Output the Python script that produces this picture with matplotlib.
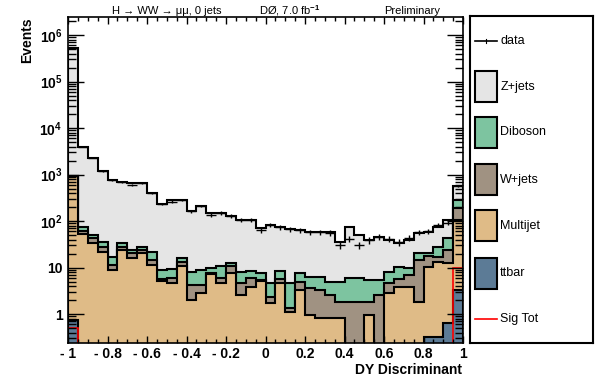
import numpy as np
import matplotlib
matplotlib.use("Agg")
import matplotlib.pyplot as plt
from matplotlib.patches import Rectangle
from matplotlib.ticker import MultipleLocator, LogLocator, NullFormatter, FixedLocator

plt.rcParams['font.family'] = ['Liberation Sans', 'DejaVu Sans']
plt.rcParams['mathtext.fontset'] = 'custom'
plt.rcParams['mathtext.rm'] = 'Liberation Sans:bold'
plt.rcParams['mathtext.bf'] = 'Liberation Sans:bold'

# DY discriminant, 40 bins from -1 to 1
edges = np.linspace(-1, 1, 41)

# yields per bin, stacked bottom -> top
ttbar = [0.75, 0, 0, 0, 0, 0, 0, 0, 0, 0,
         0, 0, 0, 0, 0, 0, 0, 0, 0, 0,
         0, 0, 0, 0, 0, 0, 0, 0, 0, 0,
         0, 0, 0, 0, 0, 0, 0.32, 0.32, 0.65, 3.3]
multijet = [929, 52.5, 33.6, 21.5, 8.8, 23.8, 16, 20.5, 11.3, 5.1,
            4.6, 10.8, 2.0, 2.8, 7.25, 4.6, 7.6, 2.56, 3.8, 5.2,
            1.72, 4.6, 1.1, 3.3, 0.95, 0.82, 0.82, 0.82, 0, 0,
            0.95, 0, 2.8, 3.8, 3.8, 1.8, 10.0, 12.8, 11.85, 101.7]
wjets = [5, 8.5, 9.4, 6.1, 2.5, 3.8, 4.5, 3.3, 3.2, 0.56,
         1.35, 2.3, 2.2, 1.4, 0.35, 1.35, 3.2, 2.0, 2.15, 0.2,
         0.58, 1.06, 0.25, 1.6, 2.65, 2.5, 1.74, 1.0, 1.8, 1.8,
         0.85, 2.56, 1.8, 1.86, 3.1, 12.7, 7.4, 3.7, 11.3, 85]
diboson = [10, 13, 7, 7.8, 5.5, 6, 3.3, 3.8, 7, 3.1,
           3.35, 2.9, 3.8, 4.6, 2.15, 4.85, 1.7, 3.4, 2.45, 2.2,
           2.3, 2.74, 3.25, 2.7, 2.65, 2.95, 2.34, 3.1, 4.15, 4.15,
           3.6, 2.84, 3.4, 4.64, 2.85, 6, 2.8, 10.8, 19.2, 93]
zjets = [524000, 3830, 2210, 1155, 745, 656, 633, 629, 378, 223,
         274, 267, 156, 201, 139, 138, 115, 97, 97, 63,
         77, 66, 62, 56, 52, 52, 53, 30.5, 68, 44,
         34, 40, 31, 23, 29, 34.5, 37.5, 46, 62, 283]
data = [525000, 3900, 2260, 1190, 762, 690, 600, 657, 400, 232,
        262, 283, 164, 210, 135, 149, 128, 105, 105, 64,
        82, 74, 67, 64, 58, 58, 56, 31, 41, 30.5,
        39, 45, 41, 35, 43, 58, 61, 82, 90, 560]
sig_tot = [0.5] + [0.01] * 38 + [10]

labels = ['Z+jets', 'Diboson', 'W+jets', 'Multijet', 'ttbar']
colors = ['#e5e5e5', '#7dc4a0', '#a09282', '#dfbb87', '#5c7b96']
xtick_vals = [-1, -0.8, -0.6, -0.4, -0.2, 0, 0.2, 0.4, 0.6, 0.8, 1]
xtick_labels = ['- 1', '- 0.8', '- 0.6', '- 0.4', '- 0.2', '0', '0.2', '0.4', '0.6', '0.8', '1']
ytick_vals = [1, 10, 1e2, 1e3, 1e4, 1e5, 1e6]
ytick_labels = ['1', '10', r'$10^{2}$', r'$10^{3}$', r'$10^{4}$', r'$10^{5}$', r'$10^{6}$']

W, H = 601, 379
fig = plt.figure(figsize=(W / 100, H / 100), dpi=100)
ax = fig.add_axes([68 / W, 1 - 343 / H, 395 / W, 326 / H])

stack = np.cumsum([ttbar, multijet, wjets, diboson, zjets], axis=0)
col_stack = colors[::-1]  # ttbar first
for i in range(len(stack) - 1, -1, -1):
    ax.stairs(stack[i], edges, fill=True, baseline=1e-3,
              facecolor=col_stack[i], edgecolor='black', linewidth=1.5)

centers = 0.5 * (edges[1:] + edges[:-1])
data = np.array(data)
ax.errorbar(centers, data, xerr=0.025, yerr=np.sqrt(data), fmt='none',
            ecolor='black', elinewidth=1, capsize=0)
ax.stairs(sig_tot, edges, baseline=None, color='red', linewidth=1.2)

ax.set_yscale('log')
ax.set_xlim(-1, 1)
ax.set_ylim(0.238, 2.44e6)

ax.xaxis.set_major_locator(FixedLocator(xtick_vals))
ax.set_xticklabels(xtick_labels)
ax.xaxis.set_minor_locator(MultipleLocator(0.05))
ax.yaxis.set_major_locator(FixedLocator(ytick_vals))
ax.set_yticklabels(ytick_labels)
ax.yaxis.set_minor_locator(LogLocator(base=10, subs=np.arange(2, 10), numticks=20))
ax.yaxis.set_minor_formatter(NullFormatter())

ax.tick_params(which='both', direction='in', top=True, right=True, width=1)
ax.tick_params(axis='x', which='major', length=5, pad=3)
ax.tick_params(axis='x', which='minor', length=3)
ax.tick_params(axis='y', which='major', length=11.5, pad=4)
ax.tick_params(axis='y', which='minor', length=5.8)
for lab in ax.get_xticklabels() + ax.get_yticklabels():
    lab.set_fontsize(10)
    lab.set_fontweight('bold')
for sp in ax.spines.values():
    sp.set_linewidth(1.2)

fig.text(27 / W, 1 - 17 / H, 'Events', rotation=90, ha='center', va='top',
         fontsize=10, fontweight='bold')
fig.text(462 / W, 1 - 370 / H, 'DY Discriminant', ha='right', va='center',
         fontsize=10, fontweight='bold')

fig.text(167 / W, 1 - 11 / H, 'H → WW → μμ, 0 jets', ha='center', va='center', fontsize=8)
fig.text(290 / W, 1 - 11 / H, 'DØ, 7.0 fb$^{-1}$', ha='center', va='center', fontsize=8)
fig.text(412 / W, 1 - 11 / H, 'Preliminary', ha='center', va='center', fontsize=8)

# legend box
lg = fig.add_axes([470 / W, 1 - 343 / H, 123 / W, 327 / H])
lg.set_xlim(0, 1)
lg.set_ylim(0, 1)
lg.set_xticks([])
lg.set_yticks([])
for sp in lg.spines.values():
    sp.set_linewidth(1.5)
ys = [0.924, 0.784, 0.644, 0.5, 0.358, 0.213, 0.073]
lg.plot([0.04, 0.22], [ys[0], ys[0]], color='black', lw=1.2)
lg.plot([0.13, 0.13], [ys[0] - 0.006, ys[0] + 0.006], color='black', lw=0.8)
lg.text(0.245, ys[0], 'data', va='center', fontsize=9)
for k, (lab, c) in enumerate(zip(labels, colors)):
    y = ys[k + 1]
    lg.add_patch(Rectangle((0.04, y - 0.0475), 0.18, 0.095, facecolor=c,
                           edgecolor='black', lw=1.5))
    lg.text(0.245, y, lab, va='center', fontsize=9)
lg.plot([0.04, 0.22], [ys[6], ys[6]], color='red', lw=1.2)
lg.text(0.245, ys[6], 'Sig Tot', va='center', fontsize=9)

fig.savefig('out.png', dpi=100)
